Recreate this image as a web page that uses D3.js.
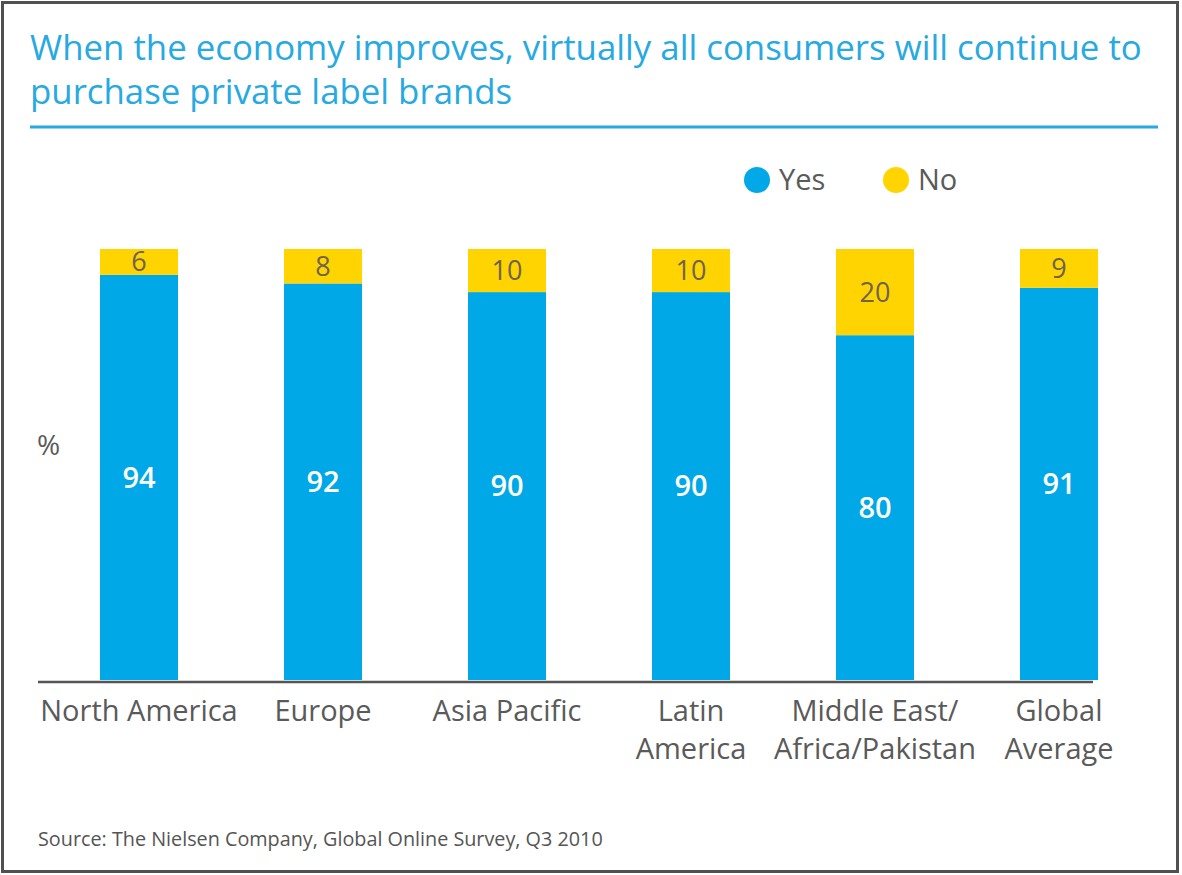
<!DOCTYPE html>
<html>
<head>
<meta charset="utf-8">
<script src="https://cdn.jsdelivr.net/npm/d3@7"></script>
<style>
  body { margin: 0; background: #fff; }
  svg { display: block; font-family: "Open Sans", "Noto Sans", sans-serif; }
</style>
</head>
<body>
<svg id="chart" width="1182" height="875"></svg>
<script>
const categories = ['North America', 'Europe', 'Asia Pacific', 'Latin America', 'Middle East/Africa/Pakistan', 'Global Average'];
const tickLabels = [['North America'], ['Europe'], ['Asia Pacific'], ['Latin', 'America'], ['Middle East/', 'Africa/Pakistan'], ['Global', 'Average']];
const yesValues = [94, 92, 90, 90, 80, 91];
const noValues = [6, 8, 10, 10, 20, 9];
const seriesNames = ['Yes', 'No'];

const svg = d3.select('#chart');
const blue = '#00a8e8';
const yellow = '#ffd400';
const gray = '#5a5a5a';

// frame
svg.append('rect')
    .attr('x', 2.5).attr('y', 2.5)
    .attr('width', 1175).attr('height', 869)
    .style('fill', '#fff')
    .style('stroke', '#505050')
    .style('stroke-width', 3);

// title
const title = svg.append('text')
    .style('fill', '#27a9e1')
    .style('font-size', '34.8px');
title.append('tspan').attr('x', 30).attr('y', 60)
    .text('When the economy improves, virtually all consumers will continue to');
title.append('tspan').attr('x', 30).attr('y', 104)
    .text('purchase private label brands');

svg.append('line')
    .attr('x1', 30).attr('x2', 1158)
    .attr('y1', 127).attr('y2', 127)
    .style('stroke', '#27a9e1')
    .style('stroke-width', 3);

// scales
const x = d3.scaleBand()
    .domain(categories)
    .range([100, 1098])
    .paddingInner(0.576)
    .paddingOuter(0);

const y = d3.scaleLinear()
    .domain([0, 100])
    .range([680, 249]);

const g = svg.append('g');

// yes segments
g.selectAll('rect.yes')
    .data(categories)
    .enter()
    .append('rect')
    .attr('class', 'yes')
    .attr('x', d => x(d))
    .attr('width', x.bandwidth())
    .attr('y', (d, i) => y(yesValues[i]))
    .attr('height', (d, i) => y(0) - y(yesValues[i]))
    .style('fill', blue);

// no segments
g.selectAll('rect.no')
    .data(categories)
    .enter()
    .append('rect')
    .attr('class', 'no')
    .attr('x', d => x(d))
    .attr('width', x.bandwidth())
    .attr('y', (d, i) => y(yesValues[i] + noValues[i]))
    .attr('height', (d, i) => y(yesValues[i]) - y(yesValues[i] + noValues[i]))
    .style('fill', yellow);

// value labels
g.selectAll('text.yes-label')
    .data(categories)
    .enter()
    .append('text')
    .attr('x', d => x(d) + x.bandwidth() / 2)
    .attr('y', (d, i) => (y(0) + y(yesValues[i])) / 2)
    .attr('dy', '0.35em')
    .attr('text-anchor', 'middle')
    .style('fill', '#fff')
    .style('font-size', '29px')
    .style('font-weight', '600')
    .text((d, i) => yesValues[i]);

g.selectAll('text.no-label')
    .data(categories)
    .enter()
    .append('text')
    .attr('x', d => x(d) + x.bandwidth() / 2)
    .attr('y', (d, i) => (y(yesValues[i]) + y(yesValues[i] + noValues[i])) / 2)
    .attr('dy', '0.35em')
    .attr('text-anchor', 'middle')
    .style('fill', '#6e6350')
    .style('font-size', '27px')
    .text((d, i) => noValues[i]);

// baseline
svg.append('line')
    .attr('x1', 38).attr('x2', 1093)
    .attr('y1', 682).attr('y2', 682)
    .style('stroke', '#555')
    .style('stroke-width', 2.5);

// category labels
const ticks = svg.selectAll('text.cat')
    .data(categories)
    .enter()
    .append('text')
    .attr('class', 'cat')
    .attr('text-anchor', 'middle')
    .style('fill', gray)
    .style('font-size', '29px');
ticks.each(function(d, i) {
    const t = d3.select(this);
    tickLabels[i].forEach((line, j) => {
        t.append('tspan')
            .attr('x', x(d) + x.bandwidth() / 2)
            .attr('y', 721 + j * 38)
            .text(line);
    });
});

// y unit
svg.append('text')
    .attr('x', 37).attr('y', 455)
    .style('fill', gray)
    .style('font-size', '28px')
    .text('%');

// legend
const legendX = [757, 896];
const legend = svg.selectAll('g.legend')
    .data(seriesNames)
    .enter()
    .append('g')
    .attr('transform', (d, i) => `translate(${legendX[i]}, 180)`);
legend.append('circle')
    .attr('r', 13)
    .style('fill', (d, i) => i === 0 ? blue : yellow);
legend.append('text')
    .attr('x', 22)
    .attr('dy', '0.35em')
    .style('fill', gray)
    .style('font-size', '29px')
    .text(d => d);

// source
svg.append('text')
    .attr('x', 38).attr('y', 846)
    .style('fill', '#555')
    .style('font-size', '19.8px')
    .text('Source: The Nielsen Company, Global Online Survey, Q3 2010');
</script>
</body>
</html>
